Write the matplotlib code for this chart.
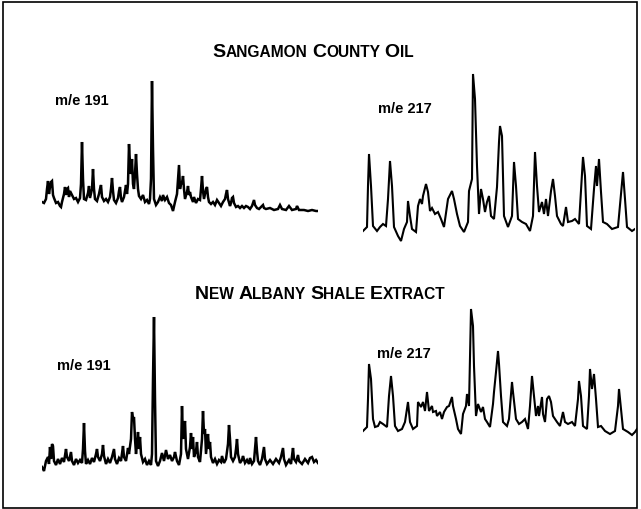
import numpy as np
import matplotlib
matplotlib.use("Agg")
import matplotlib.pyplot as plt
from matplotlib.patches import Rectangle

# mass chromatograms: (scan, intensity)
oil_191 = [(0,12),(2,11),(4,15),(5,25),(6,33),(7,20),(8,27),(9,32),(10,33),(11,19),(12,16),(14,11),
           (16,12),(18,8),(19,7),(20,12),(22,20),(23,27),(24,19),(25,25),(26,26),(27,17),(28,23),(30,19),
           (32,15),(34,16),(36,12),(38,16),(39,30),(40,72),(41,35),(42,15),(44,14),(46,21),(47,28),(48,16),
           (50,25),(51,45),(52,25),(53,15),(55,13),(57,20),(58,25),(59,29),(60,17),(62,13),(64,15),(66,12),
           (68,17),(69,25),(70,36),(71,23),(72,14),(74,11),(76,16),(77,23),(78,27),(79,16),(80,12),(82,17),
           (83,23),(84,29),(85,20),(86,30),(87,70),(88,50),(89,40),(90,55),(91,30),(92,25),(93,40),(94,60),
           (95,40),(96,25),(97,18),(99,15),(101,19),(103,12),(105,14),(107,10),(108,15),(109,35),(110,133),
           (111,65),(112,15),(114,9),(116,12),(118,17),(120,13),(121,19),(123,14),(125,17),(127,11),(129,9),
           (131,3),(133,12),(135,20),(136,35),(137,49),(138,25),(139,30),(140,31),(141,38),(142,25),(143,15),
           (145,22),(146,28),(147,19),(148,22),(149,17),(151,12),(152,17),(154,11),(156,15),(158,14),(159,25),
           (160,38),(161,23),(162,15),(163,20),(164,25),(165,27),(166,17),(167,12),(169,10),(171,12),(173,9),
           (175,14),(177,11),(179,8),(181,12),(183,15),(184,20),(185,24),(186,15),(188,8),(189,11),(190,16),
           (191,17),(192,11),(194,7),(196,8),(198,6),(200,8),(202,6),(204,8),(206,7),(208,5),(210,8),(211,11),
           (212,14),(213,9),(215,6),(217,5),(219,7),(221,9),(222,6),(224,5),(228,6),(232,4),(236,5),(238,9),
           (240,5),(244,4),(247,8),(250,4),(254,5),(255,8),(257,4),(262,4),(266,3),(270,4),(274,3),(276,3)]

oil_217 = [(0,13),(4,17),(5,58),(6,90),(8,58),(10,18),(14,13),(17,17),(20,20),(23,18),(25,45),(27,83),
           (29,58),(31,17),(35,8),(38,3),(41,15),(44,22),(45,43),(47,28),(49,15),(53,12),(55,38),(57,45),
           (59,40),(60,48),(63,60),(65,52),(67,33),(69,36),(72,30),(75,32),(78,25),(81,17),(85,45),(89,53),
           (91,45),(94,30),(97,18),(101,12),(105,22),(106,53),(109,65),(110,170),(112,145),(114,78),(116,30),
           (118,55),(120,45),(122,32),(124,42),(126,48),(128,28),(131,25),(134,57),(136,102),(137,118),
           (139,108),(140,68),(141,28),(145,17),(149,28),(151,82),(153,58),(155,25),(159,22),(163,20),
           (167,13),(170,28),(172,92),(174,58),(176,32),(179,42),(181,30),(183,45),(185,28),(188,53),(190,65),
           (192,48),(194,28),(198,20),(200,18),(203,37),(205,22),(209,23),(212,25),(216,20),(220,87),(222,68),
           (224,18),(228,15),(231,55),(233,78),(234,58),(236,85),(238,52),(240,22),(244,20),(249,15),(255,17),
           (260,72),(262,45),(264,17),(269,13),(272,15)]

shale_191 = [(0,7),(2,3),(4,13),(6,17),(7,10),(8,27),(9,15),(10,30),(11,28),(12,13),(14,9),(16,15),(18,10),
             (20,16),(22,12),(24,25),(25,17),(27,13),(29,22),(30,13),(32,9),(34,15),(36,11),(38,14),(40,11),
             (41,25),(42,51),(43,23),(44,10),(46,14),(48,10),(50,16),(52,12),(54,20),(55,25),(56,17),(58,13),
             (60,20),(61,29),(62,18),(64,10),(66,15),(68,11),(70,17),(72,25),(73,15),(75,10),(77,16),(79,13),
             (81,28),(82,17),(84,13),(86,26),(87,20),(89,35),(90,62),(91,55),(92,57),(93,35),(94,20),(95,30),
             (96,42),(97,25),(98,37),(99,20),(101,12),(103,15),(105,9),(107,13),(109,9),(110,20),(111,95),
             (112,157),(113,75),(114,13),(116,8),(118,13),(120,21),(122,13),(124,24),(126,15),(128,19),(130,13),
             (132,17),(133,22),(135,13),(137,9),(139,20),(140,68),(141,35),(142,45),(143,53),(144,25),(146,15),
             (148,27),(149,41),(150,25),(151,37),(152,17),(154,23),(155,32),(156,17),(158,12),(160,35),(161,63),
             (162,40),(163,45),(164,20),(165,30),(166,40),(167,25),(168,32),(169,17),(171,11),(173,15),(175,10),
             (177,14),(179,12),(180,18),(182,11),(184,15),(186,30),(187,49),(188,35),(189,17),(191,13),(193,17),
             (194,25),(195,35),(196,20),(198,11),(200,14),(201,18),(203,11),(205,14),(207,10),(208,16),(210,10),
             (212,13),(213,25),(214,37),(215,23),(216,13),(218,9),(220,15),(222,27),(223,15),(225,10),(228,14),
             (231,10),(234,15),(237,11),(239,17),(241,26),(242,15),(244,9),(247,14),(249,10),(251,26),(252,15),
             (254,12),(256,19),(257,13),(260,10),(263,15),(266,11),(268,16),(270,17),(272,12),(274,14),(276,11)]

shale_217 = [(0,8),(4,12),(5,40),(6,75),(8,60),(10,20),(12,12),(15,13),(17,17),(20,15),(24,12),(26,43),
             (28,63),(30,43),(32,13),(35,8),(39,10),(42,17),(45,37),(47,17),(50,10),(54,13),(55,37),(58,32),
             (60,37),(62,28),(64,47),(66,28),(69,33),(70,27),(73,28),(74,23),(77,27),(79,20),(81,27),(84,32),
             (86,33),(89,42),(90,33),(93,20),(95,10),(98,5),(100,25),(103,33),(104,45),(106,33),(108,130),
             (110,113),(111,73),(113,23),(115,35),(118,27),(120,32),(122,20),(124,17),(127,12),(130,35),
             (131,47),(133,67),(135,88),(136,75),(138,43),(140,17),(144,13),(146,20),(149,57),(150,47),
             (153,20),(156,15),(159,17),(162,20),(165,10),(167,33),(169,63),(171,43),(173,23),(175,33),
             (176,23),(179,42),(180,25),(182,17),(184,40),(186,43),(188,37),(190,23),(194,17),(197,13),
             (200,27),(202,17),(205,15),(209,17),(212,13),(215,40),(216,58),(218,43),(220,13),(224,10),
             (226,43),(227,70),(229,50),(231,65),(233,40),(235,12),(238,13),(242,8),(247,5),(252,8),(255,33),
             (256,50),(258,30),(260,10),(265,7),(269,4),(272,7),(274,10)]

titles = ["Sangamon County Oil", "New Albany Shale Extract"]
labels = ["m/e 191", "m/e 217"]

W, H = 641, 510
fig = plt.figure(figsize=(W / 100, H / 100), dpi=100)
FONT = "Liberation Sans"


def px_axes(x0, x1, ytop, ybot):
    ax = fig.add_axes([x0 / W, 1 - ybot / H, (x1 - x0) / W, (ybot - ytop) / H])
    ax.axis("off")
    return ax


def trace(ax, data, xmax, ymax, lw):
    d = np.array(data).T
    ax.plot(d[0], d[1], color="black", lw=lw, solid_joinstyle="miter")
    ax.set_xlim(0, xmax)
    ax.set_ylim(0, ymax)


def small_caps(text, xc, ybase, big, small):
    r = fig.canvas.get_renderer()
    runs = []
    words = text.upper().split()
    for i, word in enumerate(words):
        runs.append((word[0], big))
        if len(word) > 1:
            runs.append((word[1:], small))
        if i < len(words) - 1:
            runs.append((None, small))
    objs = []
    total = 0
    for s, size in runs:
        if s is None:
            w = 0.278 * size * 100 / 72
            objs.append((None, w))
        else:
            t = fig.text(0, ybase, s, fontsize=size, fontweight="bold", family=FONT, va="baseline")
            w = t.get_window_extent(r).width
            objs.append((t, w))
        total += w
    x = xc - total / 2
    for t, w in objs:
        if t is not None:
            t.set_x(x / W)
        x += w


ax = px_axes(42, 318, 75, 215)
trace(ax, oil_191, 276, 140, 1.8)
ax = px_axes(363, 635, 73, 245)
trace(ax, oil_217, 272, 172, 1.5)
ax = px_axes(42, 318, 315, 475)
trace(ax, shale_191, 276, 160, 1.8)
ax = px_axes(363, 637, 308, 440)
trace(ax, shale_217, 274, 132, 1.5)

small_caps(titles[0], 313, 1 - 57 / H, 14, 11.2)
small_caps(titles[1], 320, 1 - 299 / H, 14, 11.2)

for lab, x, y in [(labels[0], 55, 105), (labels[1], 378, 113), (labels[0], 57, 370), (labels[1], 377, 358)]:
    fig.text(x / W, 1 - y / H, lab, fontsize=10.5, family=FONT, fontweight="bold", va="baseline")

fig.patches.append(Rectangle((3 / W, 1 / H), 634 / W, 506 / H, transform=fig.transFigure,
                             fill=False, lw=1.2, color="black"))

fig.savefig("out.png", dpi=100)
